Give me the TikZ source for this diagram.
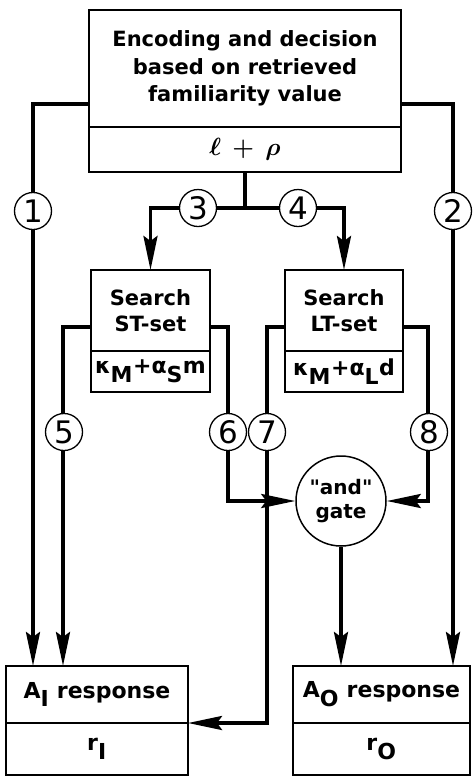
\documentclass[tikz,border=0pt]{standalone}
\usepackage{fontspec}
\setmainfont{DejaVu Sans}
\setsansfont{DejaVu Sans}
\newfontfamily\gateFont{DejaVu Sans}
\usetikzlibrary{arrows.meta, positioning, calc}
\tikzset{
    node distance=0pt and 0pt,
    % --- 基础块样式 ---
    baseBlock/.style={
        rectangle, draw, line width=1.5pt,
        align=center, inner sep=0pt, outer sep=0pt
    },
    % --- 各块样式 ---
    % top: encoding / decision
    styleEnc/.style={
        baseBlock, font=\bfseries\fontsize{21}{27.5}\selectfont
    },
    % middle: search sets
    styleSearch/.style={
        baseBlock, font=\bfseries\fontsize{21}{26}\selectfont
    },
    % bottom: responses
    styleResp/.style={
        baseBlock, font=\bfseries\fontsize{22}{26}\selectfont
    },
    % parameter rows
    stylePar/.style={
        baseBlock, font=\bfseries\boldmath\fontsize{22}{26}\selectfont
    },
    % "and" gate
    styleGate/.style={
        circle, draw, line width=1.5pt, minimum size=90pt,
        inner sep=0pt, align=center,
        font=\gateFont\bfseries\fontsize{20}{24}\selectfont
    },
    % circled path numbers
    numTag/.style={
        circle, draw, fill=white, line width=1.3pt, minimum size=37pt,
        inner sep=0pt, font=\fontsize{31}{31}\selectfont
    },
    % --- 连线样式 ---
    wire/.style={line width=3.6pt},
    conn/.style={
        wire, -{Stealth[length=34pt, width=14pt, inset=5pt]}
    }
}

\begin{document}
\begin{tikzpicture}[x=1pt, y=1pt]

	\useasboundingbox (0,0) rectangle (472,-777);

	% =========================================================
	% 1. 编码与决策 (Encoding)
	% =========================================================
	\node [styleEnc, minimum width=312pt, minimum height=117pt] (enc) at (245,-68.5)
		{Encoding and decision\\based on retrieved\\familiarity value};
	\node [stylePar, minimum width=312pt, minimum height=45pt, below=0pt of enc,
		font=\boldmath\fontsize{26}{28}\selectfont] (encPar) {$\ell \,+\, \rho$};

	% =========================================================
	% 2. 搜索块 (Search)
	% =========================================================
	\node [styleSearch, minimum width=119pt, minimum height=81pt] (st) at (150.5,-310.5) {Search\\ST-set};
	\node [stylePar, minimum width=119pt, minimum height=41pt, below=0pt of st] (stPar)
		{κ$_{\textsf{M}}$+α$_{\textsf{S}}$m};

	\node [styleSearch, minimum width=118pt, minimum height=81pt, right=75pt of st] (lt) {Search\\LT-set};
	\node [stylePar, minimum width=118pt, minimum height=41pt, below=0pt of lt] (ltPar)
		{κ$_{\textsf{M}}$+α$_{\textsf{L}}$d};

	% --- gate ---
	\node [styleGate] (gate) at (341,-501) {"and"\\gate};

	% =========================================================
	% 3. 反应 (Responses)
	% =========================================================
	\node [styleResp, minimum width=182pt, minimum height=57pt] (ai) at (97,-694.5) {A$_{\textsf{I}}$ response};
	\node [styleResp, minimum width=182pt, minimum height=52pt, below=0pt of ai] (aiPar) {r$_{\textsf{I}}$};

	\node [styleResp, minimum width=177pt, minimum height=57pt, right=105pt of ai] (ao) {A$_{\textsf{O}}$ response};
	\node [styleResp, minimum width=177pt, minimum height=52pt, below=0pt of ao] (aoPar) {r$_{\textsf{O}}$};

	% =========================================================
	% 4. 连线
	% =========================================================
	\draw [conn] ([yshift=-35.5pt]enc.west) -| ([xshift=-64pt]ai.north);
	\draw [conn] ([yshift=-35.5pt]enc.east) -| ([xshift=71.5pt]ao.north);

	\coordinate (fork) at ($(encPar.south)+(0,-36)$);
	\draw [wire] (encPar.south) -- (fork);
	\draw [conn] (fork) -| (st.north);
	\draw [conn] (fork) -| (lt.north);

	\draw [conn] ([yshift=-16.5pt]st.west) -| ([xshift=-34pt]ai.north);
	\draw [conn] ([yshift=-16.5pt]st.east) -- ++(18,0) |- (gate.west);
	\draw [conn] ([yshift=-16.5pt]lt.west) -- ++(-18,0) |- (ai.south east);
	\draw [conn] ([yshift=-16.5pt]lt.east) -- ++(25,0) |- (gate.east);
	\draw [conn] (gate.south) -- (gate.south |- ao.north);

	% --- path numbers ---
	\foreach \n/\x/\y in {1/33/211, 2/453/211, 3/198/208, 4/298/208,
			5/64/432, 6/228/432, 7/267/432, 8/429/432} {
			\node [numTag] (n\n) at (\x,-\y) {\n};
		}

\end{tikzpicture}
\end{document}
